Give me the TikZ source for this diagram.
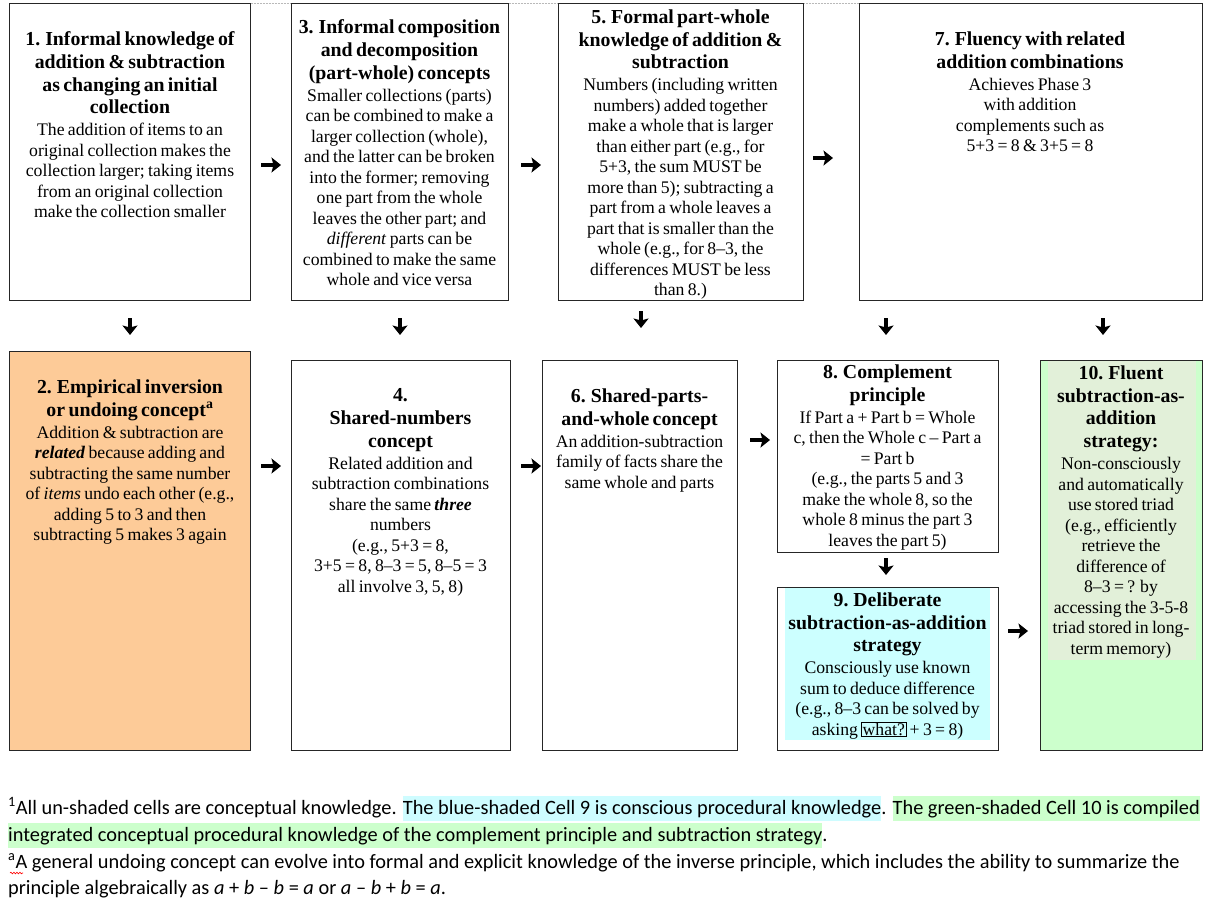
\documentclass[tikz,border=0pt]{standalone}
\usepackage{fontspec}
\setmainfont{LiberationSerif}[Extension=.ttf, UprightFont=*-Regular, BoldFont=*-Bold, ItalicFont=*-Italic, BoldItalicFont=*-BoldItalic]
\newfontfamily\calib{Carlito}
\usetikzlibrary{arrows.meta,decorations.pathmorphing}
\definecolor{peach}{RGB}{253,203,152}
\definecolor{cyanfill}{RGB}{204,255,255}
\definecolor{greenfill}{RGB}{204,255,204}
\definecolor{greeninner}{RGB}{226,240,217}
\definecolor{hlcyan}{RGB}{206,252,255}
\definecolor{hlgreen}{RGB}{204,255,204}
\newcommand\ttl{\fontsize{19.8}{22.7}\selectfont\bfseries}
\newcommand\bdy{\fontsize{17.7}{20.5}\selectfont\mdseries\upshape}
\newcommand\hlc[2]{{\setlength{\fboxsep}{0pt}\colorbox{#1}{\rule[-6.5pt]{0pt}{24.5pt}#2}}}
\newcommand\whatbox[1]{{\setlength{\fboxsep}{0.8pt}\setlength{\fboxrule}{0.6pt}\fbox{#1}}}
\tikzset{
  box/.style={draw=black!85, line width=0.8pt, inner sep=0pt},
  txt/.style={anchor=north, text width=280pt, align=center, inner sep=0pt},
  arr/.style={line width=3.6pt, -{Stealth[length=9.5pt,width=15pt,inset=2pt]}},
  foot/.style={anchor=base west, inner sep=0pt, font=\calib\fontsize{20.35}{27}\selectfont}
}
\begin{document}
\begin{tikzpicture}[x=1pt,y=-1pt]
\useasboundingbox (0,0) rectangle (1214,914);
% top hidden table border
\draw[gray!55, densely dotted, line width=0.5pt] (9,3) -- (1202,3);
% boxes
\node[box, minimum width=241pt, minimum height=297pt] (b1) at (129.5,151.5) {};
\node[box, minimum width=217pt, minimum height=297pt] (b3) at (399.5,151.5) {};
\node[box, minimum width=245pt, minimum height=297pt] (b5) at (680.5,151.5) {};
\node[box, minimum width=343pt, minimum height=297pt] (b7) at (1030.5,151.5) {};
\node[box, fill=peach, minimum width=241pt, minimum height=399pt] (b2) at (129.5,550.5) {};
\node[box, minimum width=219pt, minimum height=390pt] (b4) at (400.5,555) {};
\node[box, minimum width=195pt, minimum height=390pt] (b6) at (639.5,555) {};
\node[box, minimum width=221pt, minimum height=192pt] (b8) at (887.5,456) {};
\node[box, minimum width=221pt, minimum height=163pt] (b9) at (887.5,668.5) {};
\node[box, fill=greenfill, minimum width=162pt, minimum height=390pt] (b10) at (1121,555) {};
\fill[cyanfill] (785,588) rectangle (990,740);
\fill[greeninner] (1048,361) rectangle (1196,660);
% texts
\node[txt] (t1) at (130,31.5) {{\ttl 1. Informal knowledge of\\ addition \& subtraction\\ as changing an initial\\ collection\par}\vspace{1.5pt}{\bdy The addition of items to an\\ original collection makes the\\ collection larger; taking items\\ from an original collection\\ make the collection smaller\par}};
\node[txt] (t3) at (399.5,19.5) {{\ttl 3. Informal composition\\ and decomposition\\ (part-whole) concepts\par}\vspace{1.5pt}{\bdy Smaller collections (parts)\\ can be combined to make a\\ larger collection (whole),\\ and the latter can be broken\\ into the former; removing\\ one part from the whole\\ leaves the other part; and\\ \textit{different} parts can be\\ combined to make the same\\ whole and vice versa\par}};
\node[txt] (t5) at (680.5,9.5) {{\ttl 5. Formal part-whole\\ knowledge of addition \&\\ subtraction\par}\vspace{1.5pt}{\bdy Numbers (including written\\ numbers) added together\\ make a whole that is larger\\ than either part (e.g., for\\ 5+3, the sum MUST be\\ more than 5); subtracting a\\ part from a whole leaves a\\ part that is smaller than the\\ whole (e.g., for 8–3, the\\ differences MUST be less\\ than 8.)\par}};
\node[txt] (t7) at (1030,31.5) {{\ttl 7. Fluency with related\\ addition combinations\par}\vspace{1.5pt}{\bdy Achieves Phase 3\\ with addition\\ complements such as\\ 5+3 = 8 \& 3+5 = 8\par}};
\node[txt] (t2) at (130,379.5) {{\ttl 2. Empirical inversion\\ or undoing concept\textsuperscript{a}\par}\vspace{1.5pt}{\bdy Addition \& subtraction are\\ \textbf{\textit{related}} because adding and\\ subtracting the same number\\ of \textit{items} undo each other (e.g.,\\ adding 5 to 3 and then\\ subtracting 5 makes 3 again\par}};
\node[txt] (t4) at (400.5,388.5) {{\ttl 4.\\ Shared-numbers\\ concept\par}\vspace{1.5pt}{\bdy Related addition and\\ subtraction combinations\\ share the same \textbf{\textit{three}}\\ numbers\\ (e.g., 5+3 = 8,\\ 3+5 = 8, 8–3 = 5, 8–5 = 3\\ all involve 3, 5, 8)\par}};
\node[txt] (t6) at (639.5,388.5) {{\ttl 6. Shared-parts-\\ and-whole concept\par}\vspace{1.5pt}{\bdy An addition-subtraction\\ family of facts share the\\ same whole and parts\par}};
\node[txt] (t8) at (887.5,364.5) {{\ttl 8. Complement\\ principle\par}\vspace{1.5pt}{\bdy If Part a + Part b = Whole\\ c, then the Whole c – Part a\\ = Part b\\ (e.g., the parts 5 and 3\\ make the whole 8, so the\\ whole 8 minus the part 3\\ leaves the part 5)\par}};
\node[txt] (t9) at (887.5,592.5) {{\ttl 9. Deliberate\\ subtraction-as-addition\\ strategy\par}\vspace{1.5pt}{\bdy Consciously use known\\ sum to deduce difference\\ (e.g., 8–3 can be solved by\\ asking \whatbox{what?} + 3 = 8)\par}};
\node[txt] (t10) at (1121,365.5) {{\ttl 10. Fluent\\ subtraction-as-\\ addition\\ strategy:\par}\vspace{1.5pt}{\bdy Non-consciously\\ and automatically\\ use stored triad\\ (e.g., efficiently\\ retrieve the\\ difference of\\ 8–3 = ? by\\ accessing the 3-5-8\\ triad stored in long-\\ term memory)\par}};
% arrows
\coordinate (r13a) at (261,165); \coordinate (r13b) at (281,165);
\coordinate (r35a) at (521,165); \coordinate (r35b) at (541,165);
\coordinate (r57a) at (813,158); \coordinate (r57b) at (833,158);
\coordinate (r24a) at (261,466); \coordinate (r24b) at (281,466);
\coordinate (r46a) at (521,466); \coordinate (r46b) at (541,466);
\coordinate (r68a) at (750,440); \coordinate (r68b) at (770,440);
\coordinate (r910a) at (1008,631); \coordinate (r910b) at (1028,631);
\coordinate (d12a) at (130,318); \coordinate (d12b) at (130,335);
\coordinate (d34a) at (400,318); \coordinate (d34b) at (400,335);
\coordinate (d56a) at (641,311); \coordinate (d56b) at (641,328);
\coordinate (d78a) at (886,318); \coordinate (d78b) at (886,335);
\coordinate (d710a) at (1103,318); \coordinate (d710b) at (1103,335);
\coordinate (d89a) at (886,558); \coordinate (d89b) at (886,575);
\foreach \p in {r13,r35,r57,r24,r46,r68,r910,d12,d34,d56,d78,d710,d89}
  \draw[arr] (\p a) -- (\p b);
% footnotes
\node[foot] (f1) at (8,814) {\textsuperscript{1}All un-shaded cells are conceptual knowledge. \hlc{hlcyan}{The blue-shaded Cell 9 is conscious procedural knowledge}. \hlc{hlgreen}{The green-shaded Cell 10 is compiled}};
\node[foot] (f2) at (8,841) {\hlc{hlgreen}{integrated conceptual procedural knowledge of the complement principle and subtraction strategy}.};
\node[foot] (f3) at (8,868) {\textsuperscript{a}A general undoing concept can evolve into formal and explicit knowledge of the inverse principle, which includes the ability to summarize the};
\node[foot] (f4) at (8,894) {principle algebraically as \textit{a} + \textit{b} – \textit{b} = \textit{a} or \textit{a} – \textit{b} + \textit{b} = \textit{a}.};
\draw[red, line width=0.6pt, decorate, decoration={snake, amplitude=0.8pt, segment length=3pt}] (10,873) -- (23,873);
\end{tikzpicture}
\end{document}
